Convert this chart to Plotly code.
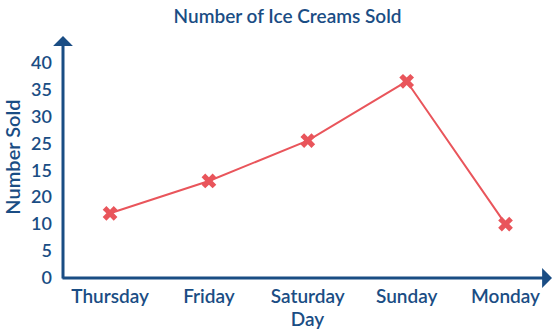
import plotly.graph_objects as go

days = ["Thursday", "Friday", "Saturday", "Sunday", "Monday"]
sold = [12, 18, 25.5, 36.5, 10]
y_tickvals = [0, 5, 10, 15, 20, 25, 30, 35, 40]
y_ticktext = ["0", "5", "10", "20", "15", "25", "30", "35", "40"]

BLUE = "#1a4d84"
RED = "#e9555b"
FONT = "Lato"

fig = go.Figure()
fig.add_trace(go.Scatter(
    x=days, y=sold, mode="lines+markers",
    line=dict(color=RED, width=2),
    marker=dict(symbol="x", size=13, color=RED, line=dict(width=0)),
    showlegend=False,
))

fig.update_layout(
    width=553, height=332,
    margin=dict(l=63, r=1, t=36, b=54),
    paper_bgcolor="white", plot_bgcolor="white",
    font=dict(family=FONT, color=BLUE, size=18, weight=600),
    title=dict(text="Number of Ice Creams Sold", x=0.52, xanchor="center",
               y=0.952, yanchor="middle",
               font=dict(size=19, color=BLUE, family=FONT, weight=600)),
    xaxis=dict(range=[-0.476, 4.47], showgrid=False, zeroline=False, showline=False,
               ticks="", ticklabelstandoff=5,
               tickfont=dict(size=19, color=BLUE, weight=600),
               title=dict(text="Day", standoff=0,
                          font=dict(size=19, color=BLUE, weight=600))),
    yaxis=dict(range=[0, 44.9], showgrid=False, zeroline=False, showline=False,
               tickvals=y_tickvals, ticktext=y_ticktext, ticks="",
               ticklabelstandoff=10, tickfont=dict(size=18, color=BLUE, weight=600),
               title=dict(text="Number Sold", standoff=6,
                          font=dict(size=20, color=BLUE, weight=600))),
)

# axis lines with arrows
fig.add_annotation(x=0, y=1, xref="paper", yref="paper", axref="pixel", ayref="pixel",
                   ax=0, ay=244, showarrow=True, arrowhead=1, arrowsize=1.1,
                   arrowwidth=3, arrowcolor=BLUE, text="", standoff=0)
fig.add_annotation(x=1, y=0, xref="paper", yref="paper", axref="pixel", ayref="pixel",
                   ax=-491, ay=0, showarrow=True, arrowhead=1, arrowsize=1.1,
                   arrowwidth=3, arrowcolor=BLUE, text="", standoff=0)

fig.write_html("out.html")
